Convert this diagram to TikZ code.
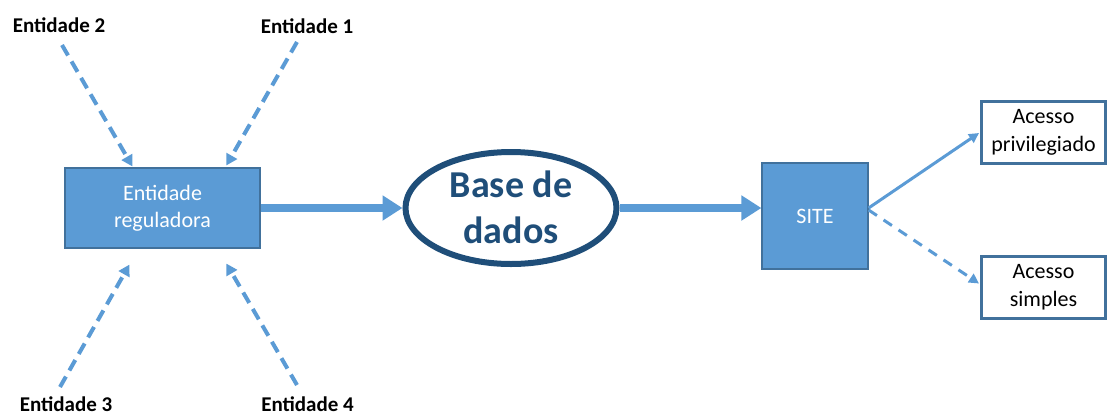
\documentclass[tikz,border=0pt]{standalone}
\usepackage{fontspec}
\setmainfont{Carlito}
\usetikzlibrary{arrows.meta,shapes.geometric,calc}
\definecolor{boxblue}{HTML}{5B9BD5}
\definecolor{boxedge}{HTML}{41719C}
\definecolor{dbblue}{HTML}{1F4E79}
\begin{document}
\begin{tikzpicture}[x=1pt,y=-1pt,
  bluebox/.style={draw=boxedge, line width=1.2pt, fill=boxblue, text=white, font=\fontsize{22}{27}\selectfont, align=center, inner sep=0pt},
  whitebox/.style={draw=boxedge, line width=3pt, fill=white, text=black, font=\fontsize{22}{28}\selectfont, align=center, inner sep=0pt, minimum width=124pt, minimum height=62pt},
  entlabel/.style={font=\bfseries\fontsize{21}{25}\selectfont, inner sep=0pt, anchor=base},
  thickarrow/.style={draw=boxblue, line width=8pt, -{Triangle[length=20pt,width=24pt]}},
  dasharrow/.style={draw=boxblue, line width=4pt, dash pattern=on 12pt off 7pt, -{Triangle[length=11pt,width=12pt]}},
  medarrow/.style={draw=boxblue, line width=3pt, -{Triangle[length=10pt,width=10pt]}},
  meddash/.style={draw=boxblue, line width=3pt, dash pattern=on 10pt off 8pt, -{Triangle[length=10pt,width=10pt]}}
]
\useasboundingbox (0,0) rectangle (1109,416);

\node[bluebox, minimum width=195pt, minimum height=80pt] (reg) at (162.5,208) {Entidade\\reguladora};
\node[ellipse, draw=dbblue, line width=6pt, minimum width=211pt, minimum height=112pt, inner sep=0pt] (db) at (511,208) {};
\node[font=\bfseries\fontsize{38}{46}\selectfont, text=dbblue, align=center, inner sep=0pt] (dbt) at (511,207) {Base de\\dados};
\node[bluebox, minimum width=106pt, minimum height=106pt] (site) at (815,216) {SITE};
\node[whitebox] (priv) at (1043.5,132) {Acesso\\privilegiado};
\node[whitebox] (simp) at (1043.5,287.5) {Acesso\\simples};

\node[entlabel] (e2) at (59,32) {Entidade 2};
\node[entlabel] (e1) at (307,33) {Entidade 1};
\node[entlabel] (e3) at (66,411) {Entidade 3};
\node[entlabel] (e4) at (307.5,411) {Entidade 4};

\coordinate (e2s) at (62,45);
\coordinate (e1s) at (297,42);
\coordinate (e3s) at (60,387);
\coordinate (e4s) at (297,385);

\draw[thickarrow] (reg.east) -- (db.west);
\draw[thickarrow] (db.east) -- (db.east -| site.west);

\draw[dasharrow] (e2s) -- ($(reg.north west)+(68,-1)$);
\draw[dasharrow] (e1s) -- ($(reg.north west)+(162,-2)$);
\draw[dasharrow] (e3s) -- ($(reg.south west)+(65,16)$);
\draw[dasharrow] (e4s) -- ($(reg.south west)+(162,15)$);

\draw[medarrow] ($(site.east)+(0,-8)$) -- ($(priv.west)+(-1,1)$);
\draw[meddash] ($(site.east)+(0,-6)$) -- ($(simp.west)+(-1,-4)$);
\end{tikzpicture}
\end{document}
